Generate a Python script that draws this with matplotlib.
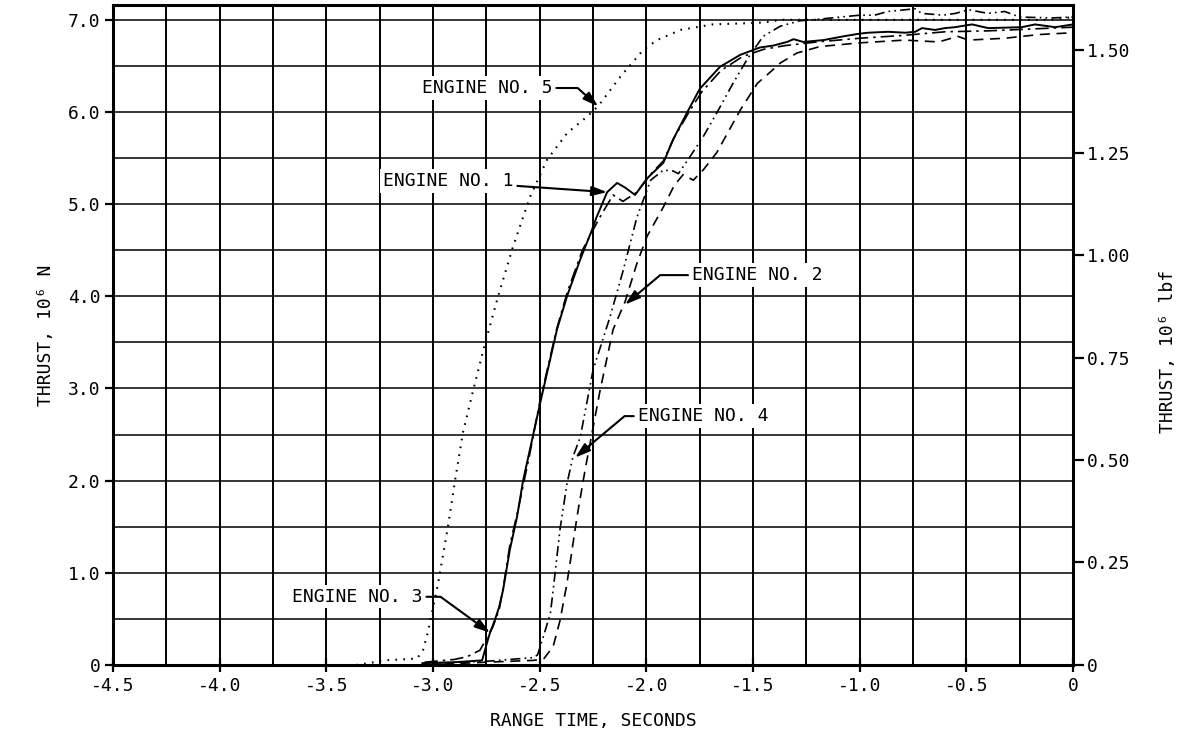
import matplotlib
matplotlib.use("Agg")
import matplotlib.pyplot as plt
from matplotlib.ticker import FixedLocator, MultipleLocator, FixedFormatter

plt.rcParams['font.family'] = ['DejaVu Sans Mono', 'DejaVu Sans']
plt.rcParams['axes.unicode_minus'] = False

# Engine thrust build-up, 10^6 N
e1_t = [-3.05, -2.90, -2.77, -2.747, -2.733, -2.71, -2.69, -2.672, -2.64, -2.606, -2.578,
        -2.498, -2.419, -2.372, -2.31, -2.255, -2.235, -2.184, -2.137, -2.10, -2.053, -1.992,
        -1.92, -1.875, -1.81, -1.75, -1.655, -1.56, -1.467, -1.406, -1.34, -1.31, -1.265,
        -1.17, -1.078, -1.0, -0.96, -0.867, -0.787, -0.74, -0.708, -0.647, -0.60, -0.553,
        -0.473, -0.398, -0.24, -0.178, -0.084, 0.0]
e1_f = [0.02, 0.03, 0.05, 0.24, 0.35, 0.49, 0.63, 0.81, 1.25, 1.61, 2.0,
        2.84, 3.64, 4.0, 4.4, 4.72, 4.85, 5.13, 5.23, 5.18, 5.10, 5.29,
        5.45, 5.70, 5.99, 6.25, 6.49, 6.62, 6.70, 6.72, 6.76, 6.79, 6.76,
        6.78, 6.82, 6.85, 6.86, 6.87, 6.86, 6.87, 6.91, 6.89, 6.91, 6.92,
        6.95, 6.91, 6.92, 6.95, 6.92, 6.95]

e2_t = [-2.95, -2.75, -2.53, -2.50, -2.48, -2.437, -2.405, -2.375, -2.358, -2.325, -2.287,
        -2.264, -2.217, -2.156, -2.10, -2.044, -1.997, -1.92, -1.87, -1.828, -1.78, -1.734,
        -1.67, -1.56, -1.48, -1.406, -1.373, -1.294, -1.186, -1.0, -0.93, -0.79, -0.63,
        -0.54, -0.49, -0.32, -0.16, 0.0]
e2_f = [0.01, 0.03, 0.05, 0.06, 0.07, 0.20, 0.48, 0.85, 1.10, 1.61, 2.12,
        2.40, 2.98, 3.64, 3.94, 4.36, 4.65, 4.97, 5.20, 5.32, 5.26, 5.37,
        5.56, 6.02, 6.31, 6.46, 6.53, 6.64, 6.71, 6.75, 6.76, 6.78, 6.76,
        6.82, 6.78, 6.80, 6.84, 6.86]

e3_t = [-3.04, -2.90, -2.84, -2.78, -2.747, -2.72, -2.69, -2.67, -2.64, -2.60, -2.55,
        -2.50, -2.42, -2.37, -2.30, -2.22, -2.156, -2.11, -2.044, -1.99, -1.92, -1.87,
        -1.80, -1.74, -1.65, -1.55, -1.45, -1.35, -1.20, -1.0, -0.80, -0.60, -0.40,
        -0.20, 0.0]
e3_f = [0.03, 0.06, 0.09, 0.16, 0.30, 0.41, 0.60, 0.85, 1.30, 1.70, 2.25,
        2.85, 3.65, 4.05, 4.50, 4.85, 5.10, 5.03, 5.13, 5.30, 5.47, 5.72,
        6.00, 6.22, 6.45, 6.60, 6.68, 6.72, 6.76, 6.80, 6.83, 6.87, 6.88,
        6.90, 6.92]

e4_t = [-3.00, -2.75, -2.53, -2.51, -2.484, -2.45, -2.437, -2.405, -2.372, -2.344, -2.31,
        -2.25, -2.17, -2.11, -2.044, -1.98, -1.92, -1.875, -1.85, -1.80, -1.734, -1.67,
        -1.594, -1.528, -1.453, -1.373, -1.28, -1.22, -1.09, -1.0, -0.93, -0.87, -0.74,
        -0.71, -0.61, -0.55, -0.49, -0.40, -0.32, -0.25, -0.10, 0.0]
e4_f = [0.02, 0.04, 0.08, 0.11, 0.30, 0.56, 0.81, 1.47, 1.97, 2.26, 2.47,
        3.20, 3.78, 4.27, 4.86, 5.26, 5.37, 5.36, 5.33, 5.50, 5.73, 5.99,
        6.31, 6.57, 6.82, 6.93, 6.99, 7.00, 7.03, 7.05, 7.05, 7.09, 7.12,
        7.07, 7.05, 7.07, 7.11, 7.07, 7.09, 7.03, 7.02, 7.03]

e5_t = [-3.36, -3.30, -3.234, -3.15, -3.075, -3.047, -3.025, -3.0, -2.976, -2.93, -2.897,
        -2.86, -2.812, -2.756, -2.695, -2.625, -2.545, -2.466, -2.372, -2.278, -2.227, -2.123,
        -2.016, -1.95, -1.84, -1.69, -1.45, -1.37, -1.0, -0.5, -0.1, 0.0]
e5_f = [0.0, 0.02, 0.05, 0.06, 0.07, 0.16, 0.35, 0.62, 0.89, 1.50, 2.0,
        2.52, 2.98, 3.49, 4.0, 4.54, 5.08, 5.48, 5.77, 5.95, 6.06, 6.38,
        6.67, 6.78, 6.89, 6.95, 6.97, 7.0, 7.0, 7.0, 7.0, 7.03]

x_ticks = [-4.5, -4.0, -3.5, -3.0, -2.5, -2.0, -1.5, -1.0, -0.5, 0.0]
x_labels = ['-4.5', '-4.0', '-3.5', '-3.0', '-2.5', '-2.0', '-1.5', '-1.0', '-0.5', '0']
yl_ticks = [0, 1, 2, 3, 4, 5, 6, 7]
yl_labels = ['0', '1.0', '2.0', '3.0', '4.0', '5.0', '6.0', '7.0']
yr_ticks = [0, 0.25, 0.50, 0.75, 1.00, 1.25, 1.50]
yr_labels = ['0', '0.25', '0.50', '0.75', '1.00', '1.25', '1.50']

N_PER_LBF = 4.448
Y_TOP = 7.16

fig = plt.figure(figsize=(12, 7.44), dpi=100)
ax = fig.add_axes([0.0942, 0.1062, 0.80, 0.887])

ax.set_xlim(-4.5, 0)
ax.set_ylim(0, Y_TOP)

# grid: 0.25 s by 0.5 MN
ax.xaxis.set_minor_locator(MultipleLocator(0.25))
ax.yaxis.set_minor_locator(MultipleLocator(0.5))
ax.xaxis.grid(which='both', color='black', linewidth=1.4, zorder=1)
ax.yaxis.grid(which='both', color='black', linewidth=1.1, zorder=1)
ax.set_axisbelow(True)

ax.plot(e1_t, e1_f, color='black', lw=1.4, ls='-', zorder=3)
ax.plot(e2_t, e2_f, color='black', lw=1.2, ls=(0, (6, 4)), zorder=3)
ax.plot(e3_t, e3_f, color='black', lw=1.2, ls=(0, (8, 3, 1.5, 3)), zorder=3)
ax.plot(e4_t, e4_f, color='black', lw=1.2, ls=(0, (6, 2.5, 1, 2.5, 1, 2.5)), zorder=3)
ax.plot(e5_t, e5_f, color='black', lw=1.5, ls=(0, (0.8, 3)), zorder=3)

for s in ax.spines.values():
    s.set_linewidth(2.2)

ax.xaxis.set_major_locator(FixedLocator(x_ticks))
ax.xaxis.set_major_formatter(FixedFormatter(x_labels))
ax.yaxis.set_major_locator(FixedLocator(yl_ticks))
ax.yaxis.set_major_formatter(FixedFormatter(yl_labels))
ax.tick_params(which='minor', length=0)
ax.tick_params(axis='x', which='major', direction='inout', length=10, width=1.6,
               labelsize=13, pad=4)
ax.tick_params(axis='y', which='major', direction='out', length=6, width=1.6,
               labelsize=13, pad=3)

ax.set_xlabel('RANGE TIME, SECONDS', fontsize=13, labelpad=12)
ax.set_ylabel('THRUST, 10⁶ N', fontsize=13, labelpad=9)

# right axis in 10^6 lbf
ax2 = ax.twinx()
ax2.set_ylim(0, Y_TOP / N_PER_LBF)
ax2.yaxis.set_major_locator(FixedLocator(yr_ticks))
ax2.yaxis.set_major_formatter(FixedFormatter(yr_labels))
ax2.tick_params(axis='y', direction='out', length=8, width=1.6, labelsize=13, pad=2)
for s in ax2.spines.values():
    s.set_visible(False)
ax2.set_ylabel('THRUST, 10⁶ lbf', fontsize=13)
ax2.yaxis.set_label_coords(1.09, 0.475)

# engine labels with leader arrows
box = dict(boxstyle='square,pad=0.15', fc='white', ec='none')
arrow = dict(arrowstyle='-|>,head_length=0.7,head_width=0.22', color='black', lw=1.5,
             shrinkA=1, shrinkB=0)

def label(txt, xy, xytext, conn):
    a = dict(arrow)
    a['connectionstyle'] = conn
    ax.annotate(txt, xy=xy, xytext=xytext, fontsize=13, ha='center', va='center',
                bbox=box, arrowprops=a, zorder=5)

label('ENGINE NO. 5', (-2.226, 6.06), (-2.747, 6.26), 'angle,angleA=0,angleB=138,rad=0')
label('ENGINE NO. 1', (-2.184, 5.13), (-2.93, 5.25), 'arc3,rad=0')
label('ENGINE NO. 2', (-2.10, 3.91), (-1.48, 4.23), 'angle,angleA=180,angleB=40,rad=0')
label('ENGINE NO. 4', (-2.334, 2.25), (-1.734, 2.70), 'angle,angleA=180,angleB=40,rad=0')
label('ENGINE NO. 3', (-2.733, 0.35), (-3.356, 0.74), 'angle,angleA=0,angleB=144,rad=0')

fig.savefig('out.png', dpi=100, facecolor='white')
